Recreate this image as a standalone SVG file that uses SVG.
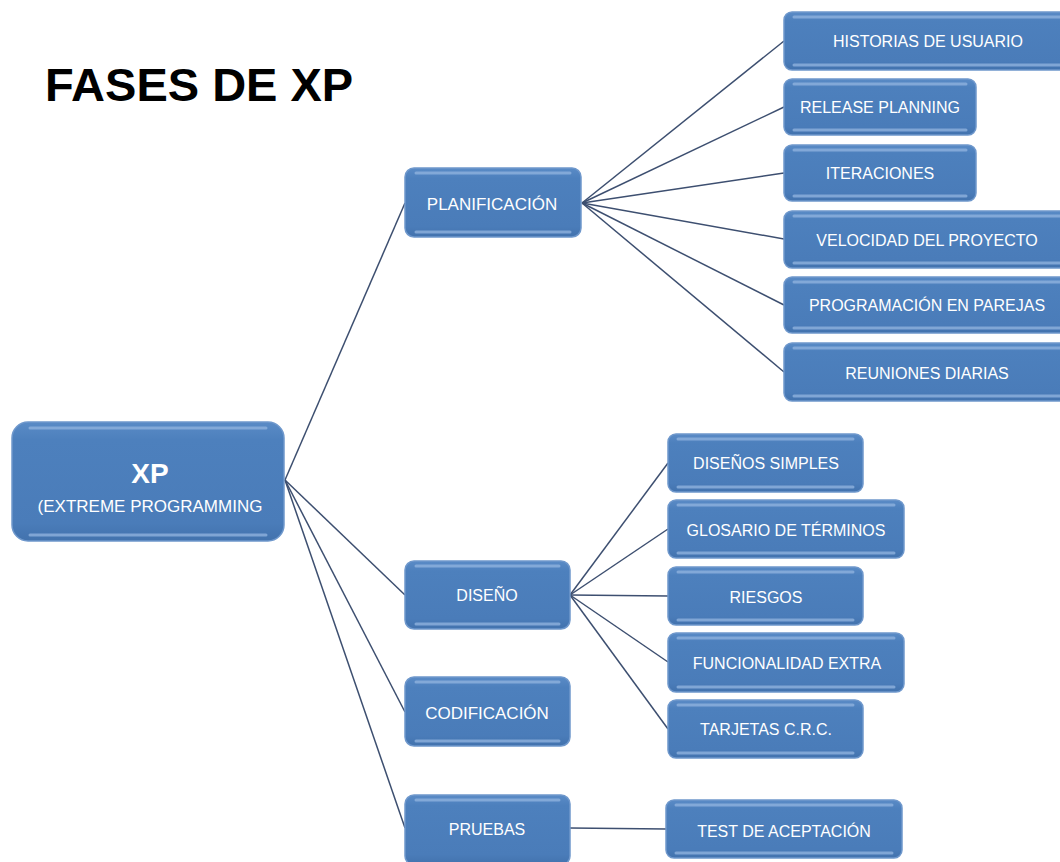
<svg xmlns="http://www.w3.org/2000/svg" width="1060" height="862" viewBox="0 0 1060 862">
<style>
.box{fill:url(#g);stroke:#6f98cc;stroke-width:1.5}
.hl{fill:none;stroke:#8fb1dd;stroke-width:3;stroke-linecap:round;opacity:0.8}
.t{font-family:"Liberation Sans",Arial,sans-serif;font-size:16px;fill:#fff;text-anchor:middle}
.t2{font-family:"Liberation Sans",Arial,sans-serif;font-size:17px;fill:#fff;text-anchor:middle}
.c{stroke:#3d4f70;stroke-width:1.5;fill:none}
</style>
<defs>
<linearGradient id="g" x1="0" y1="0" x2="0" y2="1">
<stop offset="0" stop-color="#5a8bc6"/>
<stop offset="0.15" stop-color="#4d80bd"/>
<stop offset="0.85" stop-color="#4a7cb9"/>
<stop offset="1" stop-color="#4272ad"/>
</linearGradient>
</defs>
<rect width="1060" height="862" fill="#fff"/>
<text x="45" y="101" font-family="Liberation Sans,Arial,sans-serif" font-weight="bold" font-size="47" fill="#000">FASES DE XP</text>
<g id="connectors">
<line class="c" x1="285" y1="480" x2="405" y2="203"/>
<line class="c" x1="285" y1="480" x2="405" y2="595"/>
<line class="c" x1="285" y1="480" x2="405" y2="712"/>
<line class="c" x1="285" y1="480" x2="405" y2="828"/>
<line class="c" x1="582" y1="203" x2="784" y2="41"/>
<line class="c" x1="582" y1="203" x2="784" y2="107"/>
<line class="c" x1="582" y1="203" x2="784" y2="173"/>
<line class="c" x1="582" y1="203" x2="784" y2="239"/>
<line class="c" x1="582" y1="203" x2="784" y2="305"/>
<line class="c" x1="582" y1="203" x2="784" y2="372"/>
<line class="c" x1="570" y1="595" x2="668" y2="463"/>
<line class="c" x1="570" y1="595" x2="668" y2="529"/>
<line class="c" x1="570" y1="595" x2="668" y2="596"/>
<line class="c" x1="570" y1="595" x2="668" y2="662"/>
<line class="c" x1="570" y1="595" x2="668" y2="729"/>
<line class="c" x1="570" y1="828" x2="666" y2="829"/>
</g>
<g id="xp">
<rect class="box" x="12" y="422" width="272" height="119" rx="16"/>
<line class="hl" x1="30" y1="428" x2="266" y2="428"/>
<line class="hl" x1="30" y1="535" x2="266" y2="535"/>
<text x="150" y="483" font-family="Liberation Sans,Arial,sans-serif" font-weight="bold" font-size="28" fill="#fff" text-anchor="middle">XP</text>
<text class="t2" x="150" y="512">(EXTREME PROGRAMMING</text>
</g>
<g id="planificacion">
<rect class="box" x="405" y="168" width="176" height="69" rx="9"/>
<line class="hl" x1="416" y1="173" x2="570" y2="173"/><line class="hl" x1="416" y1="232" x2="570" y2="232"/>
<text class="t2" x="492" y="210">PLANIFICACIÓN</text>
</g>
<g id="diseno">
<rect class="box" x="405" y="561" width="165" height="68" rx="9"/>
<line class="hl" x1="416" y1="566" x2="559" y2="566"/><line class="hl" x1="416" y1="624" x2="559" y2="624"/>
<text class="t" x="487" y="601">DISEÑO</text>
</g>
<g id="codificacion">
<rect class="box" x="405" y="677" width="165" height="69" rx="9"/>
<line class="hl" x1="416" y1="682" x2="559" y2="682"/><line class="hl" x1="416" y1="741" x2="559" y2="741"/>
<text class="t2" x="487" y="719">CODIFICACIÓN</text>
</g>
<g id="pruebas">
<rect class="box" x="405" y="795" width="165" height="70" rx="9"/>
<line class="hl" x1="416" y1="800" x2="559" y2="800"/>
<text class="t" x="487" y="835">PRUEBAS</text>
</g>
<g id="historias">
<rect class="box" x="784" y="12" width="290" height="58" rx="8"/>
<line class="hl" x1="794" y1="17" x2="1060" y2="17"/><line class="hl" x1="794" y1="65" x2="1060" y2="65"/>
<text class="t" x="928" y="47">HISTORIAS DE USUARIO</text>
</g>
<g id="release">
<rect class="box" x="784" y="79" width="192" height="56" rx="8"/>
<line class="hl" x1="794" y1="84" x2="966" y2="84"/><line class="hl" x1="794" y1="130" x2="966" y2="130"/>
<text class="t" x="880" y="113">RELEASE PLANNING</text>
</g>
<g id="iteraciones">
<rect class="box" x="784" y="145" width="192" height="56" rx="8"/>
<line class="hl" x1="794" y1="150" x2="966" y2="150"/><line class="hl" x1="794" y1="196" x2="966" y2="196"/>
<text class="t" x="880" y="179">ITERACIONES</text>
</g>
<g id="velocidad">
<rect class="box" x="784" y="211" width="290" height="57" rx="8"/>
<line class="hl" x1="794" y1="216" x2="1060" y2="216"/><line class="hl" x1="794" y1="263" x2="1060" y2="263"/>
<text class="t" x="927" y="246">VELOCIDAD DEL PROYECTO</text>
</g>
<g id="programacion">
<rect class="box" x="784" y="277" width="290" height="56" rx="8"/>
<line class="hl" x1="794" y1="282" x2="1060" y2="282"/><line class="hl" x1="794" y1="328" x2="1060" y2="328"/>
<text class="t" x="927" y="311">PROGRAMACIÓN EN PAREJAS</text>
</g>
<g id="reuniones">
<rect class="box" x="784" y="343" width="290" height="58" rx="8"/>
<line class="hl" x1="794" y1="348" x2="1060" y2="348"/><line class="hl" x1="794" y1="396" x2="1060" y2="396"/>
<text class="t" x="927" y="379">REUNIONES DIARIAS</text>
</g>
<g id="disenos-simples">
<rect class="box" x="668" y="434" width="195" height="58" rx="8"/>
<line class="hl" x1="678" y1="439" x2="853" y2="439"/><line class="hl" x1="678" y1="487" x2="853" y2="487"/>
<text class="t" x="766" y="469">DISEÑOS SIMPLES</text>
</g>
<g id="glosario">
<rect class="box" x="668" y="500" width="236" height="58" rx="8"/>
<line class="hl" x1="678" y1="505" x2="894" y2="505"/><line class="hl" x1="678" y1="553" x2="894" y2="553"/>
<text class="t" x="786" y="536">GLOSARIO DE TÉRMINOS</text>
</g>
<g id="riesgos">
<rect class="box" x="668" y="567" width="195" height="58" rx="8"/>
<line class="hl" x1="678" y1="572" x2="853" y2="572"/><line class="hl" x1="678" y1="620" x2="853" y2="620"/>
<text class="t" x="766" y="603">RIESGOS</text>
</g>
<g id="funcionalidad">
<rect class="box" x="668" y="633" width="236" height="59" rx="8"/>
<line class="hl" x1="678" y1="638" x2="894" y2="638"/><line class="hl" x1="678" y1="687" x2="894" y2="687"/>
<text class="t" x="787" y="669">FUNCIONALIDAD EXTRA</text>
</g>
<g id="tarjetas">
<rect class="box" x="668" y="700" width="195" height="58" rx="8"/>
<line class="hl" x1="678" y1="705" x2="853" y2="705"/><line class="hl" x1="678" y1="753" x2="853" y2="753"/>
<text class="t" x="766" y="735">TARJETAS C.R.C.</text>
</g>
<g id="test">
<rect class="box" x="666" y="800" width="236" height="58" rx="8"/>
<line class="hl" x1="676" y1="805" x2="892" y2="805"/><line class="hl" x1="676" y1="853" x2="892" y2="853"/>
<text class="t" x="784" y="837">TEST DE ACEPTACIÓN</text>
</g>
</svg>
